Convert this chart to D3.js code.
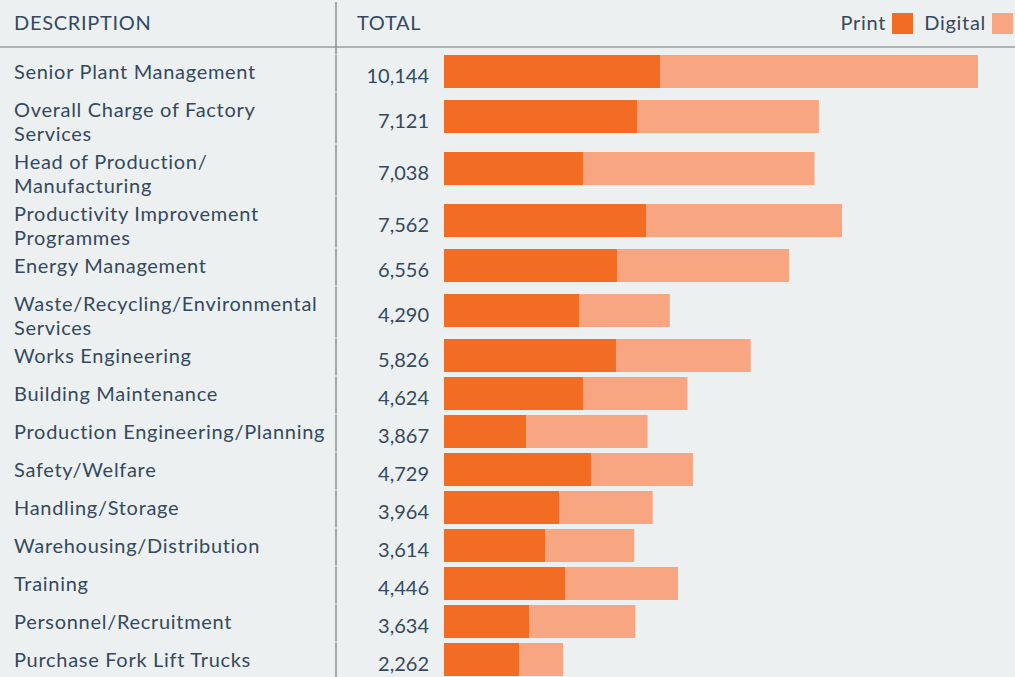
<!DOCTYPE html>
<html>
<head>
<meta charset="utf-8">
<script src="https://cdn.jsdelivr.net/npm/d3@7"></script>
<style>
  html, body { margin: 0; padding: 0; background: #ecf0f1; }
  svg { display: block; }
  text { font-family: Lato, "Open Sans", sans-serif; fill: #34495e; font-weight: 400; }
  .lbl { letter-spacing: 0.7px; }
  .num { letter-spacing: 0.3px; }
</style>
</head>
<body>
<svg id="chart" width="1015" height="677"></svg>
<script>
// ---- data ----
const categories = [
  "Senior Plant Management",
  "Overall Charge of Factory\nServices",
  "Head of Production/\nManufacturing",
  "Productivity Improvement\nProgrammes",
  "Energy Management",
  "Waste/Recycling/Environmental\nServices",
  "Works Engineering",
  "Building Maintenance",
  "Production Engineering/Planning",
  "Safety/Welfare",
  "Handling/Storage",
  "Warehousing/Distribution",
  "Training",
  "Personnel/Recruitment",
  "Purchase Fork Lift Trucks"
];
const totals = [10144, 7121, 7038, 7562, 6556, 4290, 5826, 4624, 3867, 4729, 3964, 3614, 4446, 3634, 2262];
const printValues = [4103, 3666, 2640, 3837, 3286, 2565, 3267, 2640, 1558, 2792, 2185, 1919, 2299, 1615, 1425];
const digitalValues = [6041, 3455, 4398, 3725, 3270, 1725, 2559, 1984, 2309, 1937, 1779, 1695, 2147, 2019, 837];
const seriesNames = ["Print", "Digital"];
const headers = ["DESCRIPTION", "TOTAL"];

// ---- layout ----
const W = 1015, H = 677;
const colors = { Print: "#f36c24", Digital: "#f8a681" };
const fontSize = 20;
const headerLineY = 47;
const dividerX = 336;
const firstRowTop = 54;
const lineH = 24;
const barH = 33;
const labelX = 14;
const valueRight = 429;

const svg = d3.select("#chart");
svg.append("rect").attr("width", W).attr("height", H).attr("fill", "#ecf0f1");

const rows = categories.map((c, i) => {
  const lines = c.split("\n");
  return { name: c, lines, total: totals[i], print: printValues[i], digital: digitalValues[i],
           h: lines.length === 1 ? 38 : 52 };
});
let acc = firstRowTop;
rows.forEach(r => { r.top = acc; acc += r.h; r.center = r.top + r.h / 2 - 1.5; });

const x = d3.scaleLinear().domain([0, d3.max(totals)]).range([444, 978]);

const stack = d3.stack().keys(seriesNames)(rows.map(r => ({ Print: r.print, Digital: r.digital })));

// bars
const g = svg.append("g");
stack.forEach(layer => {
  g.selectAll(null).data(layer).join("rect")
    .attr("x", d => x(d[0]))
    .attr("width", d => x(d[1]) - x(d[0]))
    .attr("y", (d, i) => rows[i].center - barH / 2)
    .attr("height", barH)
    .attr("fill", colors[layer.key]);
});

// divider lines
svg.append("line").attr("x1", 0).attr("x2", W).attr("y1", headerLineY).attr("y2", headerLineY)
  .attr("stroke", "#9a9c9e").attr("stroke-width", 1.5);
svg.append("line").attr("x1", dividerX).attr("x2", dividerX).attr("y1", 2).attr("y2", firstRowTop)
  .attr("stroke", "#8c8e90").attr("stroke-width", 1.5);
svg.selectAll(null).data(rows).join("line")
  .attr("x1", dividerX).attr("x2", dividerX)
  .attr("y1", r => r.top + 0.5).attr("y2", r => r.top + r.h - 0.5)
  .attr("stroke", "#8c8e90").attr("stroke-width", 1.5);

// headers
svg.append("text").attr("class", "lbl").attr("x", labelX).attr("y", 30).attr("font-size", fontSize).text(headers[0]);
svg.append("text").attr("class", "lbl").attr("x", 357).attr("y", 30).attr("font-size", fontSize).text(headers[1]);

// legend
const legendY = 13, sq = 21;
svg.append("rect").attr("x", 992).attr("y", legendY).attr("width", sq).attr("height", sq).attr("fill", colors.Digital);
svg.append("text").attr("class", "lbl").attr("x", 986).attr("y", 30).attr("text-anchor", "end").attr("font-size", fontSize).text(seriesNames[1]);
svg.append("rect").attr("x", 892).attr("y", legendY).attr("width", sq).attr("height", sq).attr("fill", colors.Print);
svg.append("text").attr("class", "lbl").attr("x", 886).attr("y", 30).attr("text-anchor", "end").attr("font-size", fontSize).text(seriesNames[0]);

// row labels
const fmt = d3.format(",");
rows.forEach(r => {
  const t = svg.append("text").attr("class", "lbl").attr("x", labelX).attr("y", r.top + 25).attr("font-size", fontSize);
  r.lines.forEach((ln, j) => {
    t.append("tspan").attr("x", labelX).attr("dy", j === 0 ? 0 : lineH).text(ln);
  });
  svg.append("text").attr("x", valueRight).attr("y", r.center + 11.5)
    .attr("text-anchor", "end").attr("font-size", fontSize).text(fmt(r.total));
});
</script>
</body>
</html>
